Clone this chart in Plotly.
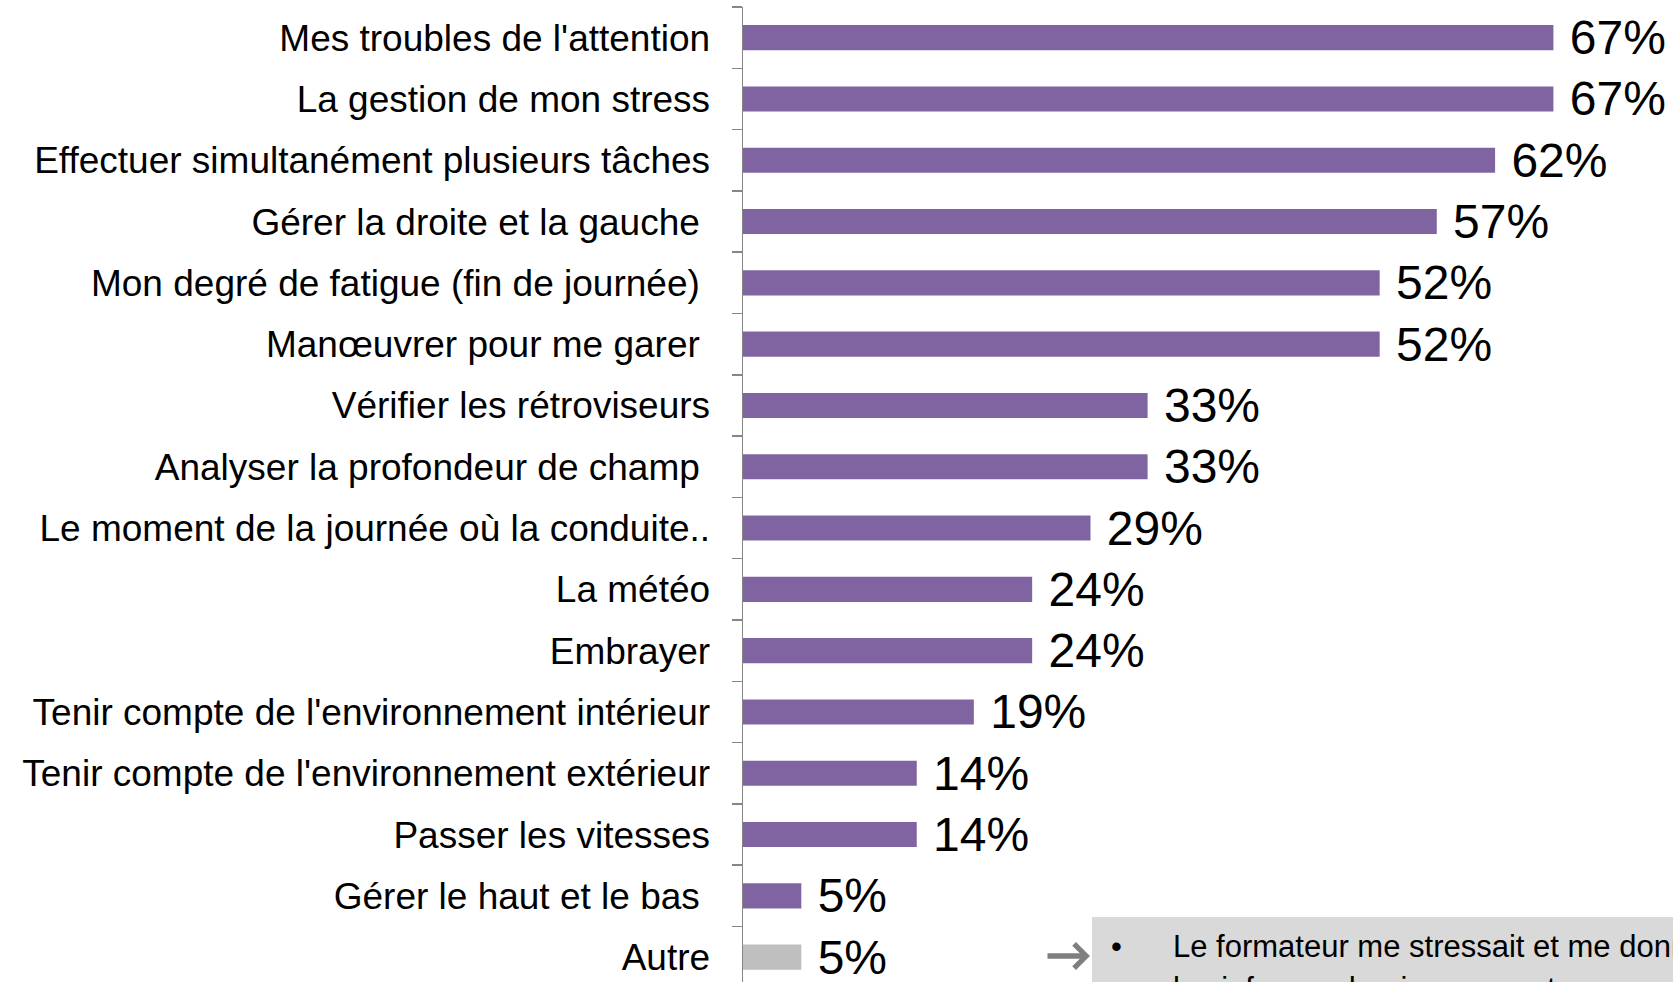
import plotly.graph_objects as go

categories = [
    "Mes troubles de l'attention",
    "La gestion de mon stress",
    "Effectuer simultanément plusieurs tâches",
    "Gérer la droite et la gauche\u00a0",
    "Mon degré de fatigue (fin de journée)\u00a0",
    "Manœuvrer pour me garer\u00a0",
    "Vérifier les rétroviseurs",
    "Analyser la profondeur de champ\u00a0",
    "Le moment de la journée où la conduite..",
    "La météo",
    "Embrayer",
    "Tenir compte de l'environnement intérieur",
    "Tenir compte de l'environnement extérieur",
    "Passer les vitesses",
    "Gérer le haut et le bas\u00a0",
    "Autre",
]
values = [66.7, 66.7, 61.9, 57.1, 52.4, 52.4, 33.3, 33.3, 28.6, 23.8, 23.8, 19.0, 14.3, 14.3, 4.8, 4.8]
callout_lines = ["Le formateur me stressait et me donnait", "les infos au dernier moment"]

PURPLE = "#8064A2"
GREY = "#BFBFBF"
colors = [GREY if c == "Autre" else PURPLE for c in categories]

W, H = 1673, 982
L, T, R, B = 743, 7, 0, 0
PW, PH = W - L - R, H - T - B
BAND = 61.3
FONT = "Liberation Sans, Arial"


def px(x):
    return (x - L) / PW


def py(y):
    return (H - B - y) / PH


fig = go.Figure(
    go.Bar(
        x=values,
        y=categories,
        orientation="h",
        marker=dict(color=colors, line=dict(width=0)),
        texttemplate="\u00a0%{x:.0f}%",
        textposition="outside",
        constraintext="none",
        cliponaxis=False,
        textfont=dict(family=FONT, size=48, color="black"),
        hoverinfo="skip",
    )
)

fig.update_layout(
    width=W,
    height=H,
    margin=dict(l=L, r=R, t=T, b=B, pad=0),
    paper_bgcolor="white",
    plot_bgcolor="white",
    bargap=0.59,
    showlegend=False,
    font=dict(family=FONT, color="black"),
)

fig.update_xaxes(
    range=[0, PW / 12.15],
    showgrid=False,
    zeroline=False,
    showticklabels=False,
    showline=False,
    ticks="",
)

fig.update_yaxes(
    type="category",
    range=[-0.5 + PH / BAND, -0.5],
    showgrid=False,
    zeroline=False,
    showline=True,
    linecolor="#868686",
    linewidth=1.5,
    ticks="outside",
    tickson="boundaries",
    ticklen=10,
    tickwidth=1.5,
    tickcolor="#868686",
    ticklabelstandoff=24,
    tickfont=dict(family=FONT, size=37, color="black"),
)

# callout box
fig.add_shape(
    type="rect", xref="paper", yref="paper",
    x0=px(1092), x1=px(1700), y0=py(1010), y1=py(917),
    fillcolor="#D9D9D9", line=dict(width=0), layer="below",
)

# arrow
fig.add_annotation(
    xref="paper", yref="paper", x=px(1090), y=py(956),
    ax=-44, ay=0, text="", showarrow=True,
    arrowhead=4, arrowsize=0.85, arrowwidth=5.5, arrowcolor="#7F7F7F",
    standoff=0, startstandoff=0,
)

# bullet and text
fig.add_annotation(
    xref="paper", yref="paper", x=px(1116), y=py(946),
    text="•", showarrow=False, xanchor="center", yanchor="middle",
    font=dict(family=FONT, size=31, color="black"),
)
for i, line in enumerate(callout_lines):
    fig.add_annotation(
        xref="paper", yref="paper", x=px(1171), y=py(946 + 42 * i),
        text=line, showarrow=False, xanchor="left", yanchor="middle",
        font=dict(family=FONT, size=31, color="black"),
    )

fig.write_html(
    "out.html",
    config={"displayModeBar": False, "staticPlot": True},
    post_script="document.body.style.margin='0px';",
)
